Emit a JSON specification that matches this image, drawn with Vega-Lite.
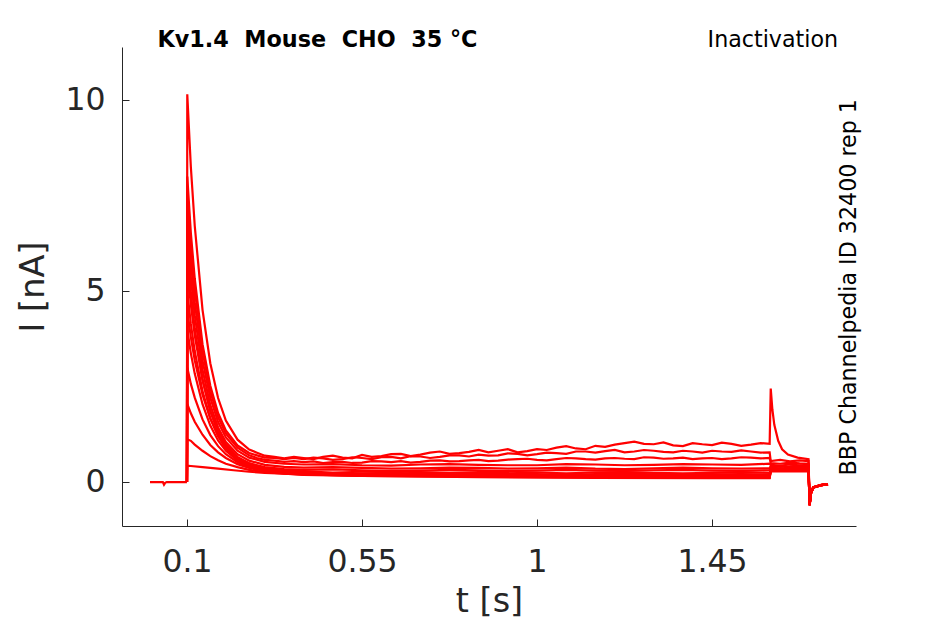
{
  "$schema": "https://vega.github.io/schema/vega-lite/v6.json",
  "width": 734,
  "height": 479,
  "autosize": "none",
  "padding": {"left": 122, "top": 47, "right": 89, "bottom": 98},
  "background": "white",
  "config": {
    "view": {"stroke": null},
    "font": "DejaVu Sans",
    "axis": {
      "grid": false,
      "domainColor": "#262626",
      "domainWidth": 1,
      "tickColor": "#262626",
      "tickSize": -7,
      "labelColor": "#262626",
      "titleColor": "#262626",
      "labelFont": "DejaVu Sans",
      "titleFont": "DejaVu Sans",
      "labelFontSize": 31.5,
      "titleFontSize": 33.5,
      "titleFontWeight": "normal"
    }
  },
  "data": {
    "values": [
      {"s": 0, "t": 0.005, "i": 0}, {"s": 0, "t": 0.038, "i": 0}, {"s": 0, "t": 0.041, "i": -0.07}, {"s": 0, "t": 0.044, "i": -0.02}, {"s": 0, "t": 0.048, "i": 0}, {"s": 0, "t": 0.1, "i": 0},

      {"s": 1, "t": 0.1, "i": 0}, {"s": 1, "t": 0.1008, "i": 10.15}, {"s": 1, "t": 0.11, "i": 8.25}, {"s": 1, "t": 0.12, "i": 6.71}, {"s": 1, "t": 0.14, "i": 4.51}, {"s": 1, "t": 0.16, "i": 3.11}, {"s": 1, "t": 0.18, "i": 2.2}, {"s": 1, "t": 0.2, "i": 1.61}, {"s": 1, "t": 0.23, "i": 1.11}, {"s": 1, "t": 0.26, "i": 0.85}, {"s": 1, "t": 0.28, "i": 0.77}, {"s": 1, "t": 0.3, "i": 0.69}, {"s": 1, "t": 0.325, "i": 0.66}, {"s": 1, "t": 0.35, "i": 0.62}, {"s": 1, "t": 0.375, "i": 0.66}, {"s": 1, "t": 0.4, "i": 0.63},
      {"s": 1, "t": 0.425, "i": 0.6}, {"s": 1, "t": 0.45, "i": 0.66}, {"s": 1, "t": 0.475, "i": 0.69}, {"s": 1, "t": 0.5, "i": 0.64}, {"s": 1, "t": 0.525, "i": 0.62}, {"s": 1, "t": 0.55, "i": 0.71}, {"s": 1, "t": 0.575, "i": 0.66}, {"s": 1, "t": 0.6, "i": 0.68}, {"s": 1, "t": 0.625, "i": 0.73}, {"s": 1, "t": 0.65, "i": 0.74}, {"s": 1, "t": 0.675, "i": 0.68}, {"s": 1, "t": 0.7, "i": 0.72}, {"s": 1, "t": 0.725, "i": 0.77}, {"s": 1, "t": 0.75, "i": 0.8}, {"s": 1, "t": 0.775, "i": 0.74}, {"s": 1, "t": 0.8, "i": 0.76}, {"s": 1, "t": 0.825, "i": 0.79}, {"s": 1, "t": 0.85, "i": 0.84}, {"s": 1, "t": 0.875, "i": 0.78}, {"s": 1, "t": 0.9, "i": 0.82}, {"s": 1, "t": 0.925, "i": 0.86}, {"s": 1, "t": 0.95, "i": 0.78}, {"s": 1, "t": 0.975, "i": 0.81}, {"s": 1, "t": 1, "i": 0.86}, {"s": 1, "t": 1.025, "i": 0.84}, {"s": 1, "t": 1.05, "i": 0.9}, {"s": 1, "t": 1.075, "i": 0.94}, {"s": 1, "t": 1.1, "i": 0.88}, {"s": 1, "t": 1.125, "i": 0.86}, {"s": 1, "t": 1.15, "i": 0.95}, {"s": 1, "t": 1.175, "i": 0.92}, {"s": 1, "t": 1.2, "i": 0.98}, {"s": 1, "t": 1.225, "i": 1.02}, {"s": 1, "t": 1.25, "i": 1.06}, {"s": 1, "t": 1.275, "i": 1.0}, {"s": 1, "t": 1.3, "i": 0.99}, {"s": 1, "t": 1.325, "i": 1.04}, {"s": 1, "t": 1.35, "i": 0.96}, {"s": 1, "t": 1.375, "i": 0.94}, {"s": 1, "t": 1.4, "i": 1.02}, {"s": 1, "t": 1.425, "i": 0.99}, {"s": 1, "t": 1.45, "i": 0.97}, {"s": 1, "t": 1.475, "i": 1.03}, {"s": 1, "t": 1.5, "i": 1.0}, {"s": 1, "t": 1.525, "i": 0.95}, {"s": 1, "t": 1.55, "i": 0.98}, {"s": 1, "t": 1.575, "i": 1.02}, {"s": 1, "t": 1.598, "i": 1.0},
      {"s": 1, "t": 1.6008, "i": 2.45}, {"s": 1, "t": 1.605, "i": 1.9}, {"s": 1, "t": 1.61, "i": 1.5}, {"s": 1, "t": 1.62, "i": 1.08}, {"s": 1, "t": 1.63, "i": 0.86}, {"s": 1, "t": 1.645, "i": 0.72}, {"s": 1, "t": 1.67, "i": 0.64}, {"s": 1, "t": 1.698, "i": 0.6}, {"s": 1, "t": 1.7008, "i": -0.62}, {"s": 1, "t": 1.704, "i": -0.3}, {"s": 1, "t": 1.71, "i": -0.15}, {"s": 1, "t": 1.73, "i": -0.08}, {"s": 1, "t": 1.748, "i": -0.06},

      {"s": 2, "t": 0.1, "i": 0}, {"s": 2, "t": 0.1008, "i": 8.0}, {"s": 2, "t": 0.11, "i": 6.52}, {"s": 2, "t": 0.12, "i": 5.33}, {"s": 2, "t": 0.14, "i": 3.61}, {"s": 2, "t": 0.16, "i": 2.52}, {"s": 2, "t": 0.18, "i": 1.81}, {"s": 2, "t": 0.2, "i": 1.35}, {"s": 2, "t": 0.23, "i": 0.96}, {"s": 2, "t": 0.26, "i": 0.76}, {"s": 2, "t": 0.28, "i": 0.7}, {"s": 2, "t": 0.3, "i": 0.64}, {"s": 2, "t": 0.325, "i": 0.63}, {"s": 2, "t": 0.35, "i": 0.6}, {"s": 2, "t": 0.375, "i": 0.63}, {"s": 2, "t": 0.4, "i": 0.6},
      {"s": 2, "t": 0.425, "i": 0.64}, {"s": 2, "t": 0.45, "i": 0.62}, {"s": 2, "t": 0.475, "i": 0.58}, {"s": 2, "t": 0.5, "i": 0.6}, {"s": 2, "t": 0.525, "i": 0.65}, {"s": 2, "t": 0.55, "i": 0.63}, {"s": 2, "t": 0.575, "i": 0.6}, {"s": 2, "t": 0.6, "i": 0.65}, {"s": 2, "t": 0.625, "i": 0.66}, {"s": 2, "t": 0.65, "i": 0.62}, {"s": 2, "t": 0.675, "i": 0.68}, {"s": 2, "t": 0.7, "i": 0.67}, {"s": 2, "t": 0.725, "i": 0.63}, {"s": 2, "t": 0.75, "i": 0.66}, {"s": 2, "t": 0.775, "i": 0.7}, {"s": 2, "t": 0.8, "i": 0.7}, {"s": 2, "t": 0.825, "i": 0.67}, {"s": 2, "t": 0.85, "i": 0.72}, {"s": 2, "t": 0.875, "i": 0.69}, {"s": 2, "t": 0.9, "i": 0.7}, {"s": 2, "t": 0.925, "i": 0.75}, {"s": 2, "t": 0.95, "i": 0.74}, {"s": 2, "t": 0.975, "i": 0.7}, {"s": 2, "t": 1, "i": 0.73}, {"s": 2, "t": 1.025, "i": 0.77}, {"s": 2, "t": 1.05, "i": 0.76}, {"s": 2, "t": 1.075, "i": 0.74}, {"s": 2, "t": 1.1, "i": 0.8}, {"s": 2, "t": 1.125, "i": 0.8}, {"s": 2, "t": 1.15, "i": 0.77}, {"s": 2, "t": 1.175, "i": 0.81}, {"s": 2, "t": 1.2, "i": 0.84}, {"s": 2, "t": 1.225, "i": 0.78}, {"s": 2, "t": 1.25, "i": 0.8}, {"s": 2, "t": 1.275, "i": 0.84}, {"s": 2, "t": 1.3, "i": 0.82}, {"s": 2, "t": 1.325, "i": 0.79}, {"s": 2, "t": 1.35, "i": 0.78}, {"s": 2, "t": 1.375, "i": 0.82}, {"s": 2, "t": 1.4, "i": 0.8}, {"s": 2, "t": 1.425, "i": 0.77}, {"s": 2, "t": 1.45, "i": 0.82}, {"s": 2, "t": 1.475, "i": 0.8}, {"s": 2, "t": 1.5, "i": 0.79}, {"s": 2, "t": 1.525, "i": 0.83}, {"s": 2, "t": 1.55, "i": 0.8}, {"s": 2, "t": 1.575, "i": 0.77}, {"s": 2, "t": 1.598, "i": 0.78},
      {"s": 2, "t": 1.6008, "i": 0.55}, {"s": 2, "t": 1.625, "i": 0.58}, {"s": 2, "t": 1.65, "i": 0.54}, {"s": 2, "t": 1.675, "i": 0.57}, {"s": 2, "t": 1.698, "i": 0.55}, {"s": 2, "t": 1.7008, "i": -0.6}, {"s": 2, "t": 1.704, "i": -0.3}, {"s": 2, "t": 1.71, "i": -0.14}, {"s": 2, "t": 1.73, "i": -0.08}, {"s": 2, "t": 1.748, "i": -0.07},

      {"s": 3, "t": 0.1, "i": 0}, {"s": 3, "t": 0.1008, "i": 7.6}, {"s": 3, "t": 0.11, "i": 6.19}, {"s": 3, "t": 0.12, "i": 5.05}, {"s": 3, "t": 0.14, "i": 3.42}, {"s": 3, "t": 0.16, "i": 2.37}, {"s": 3, "t": 0.18, "i": 1.7}, {"s": 3, "t": 0.2, "i": 1.27}, {"s": 3, "t": 0.23, "i": 0.9}, {"s": 3, "t": 0.26, "i": 0.7}, {"s": 3, "t": 0.28, "i": 0.63}, {"s": 3, "t": 0.3, "i": 0.58}, {"s": 3, "t": 0.325, "i": 0.56}, {"s": 3, "t": 0.35, "i": 0.53}, {"s": 3, "t": 0.375, "i": 0.55}, {"s": 3, "t": 0.4, "i": 0.52},
      {"s": 3, "t": 0.425, "i": 0.54}, {"s": 3, "t": 0.45, "i": 0.5}, {"s": 3, "t": 0.475, "i": 0.52}, {"s": 3, "t": 0.5, "i": 0.53}, {"s": 3, "t": 0.525, "i": 0.5}, {"s": 3, "t": 0.55, "i": 0.51}, {"s": 3, "t": 0.575, "i": 0.55}, {"s": 3, "t": 0.6, "i": 0.54}, {"s": 3, "t": 0.625, "i": 0.52}, {"s": 3, "t": 0.65, "i": 0.55}, {"s": 3, "t": 0.675, "i": 0.51}, {"s": 3, "t": 0.7, "i": 0.53}, {"s": 3, "t": 0.725, "i": 0.56}, {"s": 3, "t": 0.75, "i": 0.57}, {"s": 3, "t": 0.775, "i": 0.54}, {"s": 3, "t": 0.8, "i": 0.55}, {"s": 3, "t": 0.825, "i": 0.57}, {"s": 3, "t": 0.85, "i": 0.58}, {"s": 3, "t": 0.875, "i": 0.55}, {"s": 3, "t": 0.9, "i": 0.56}, {"s": 3, "t": 0.925, "i": 0.59}, {"s": 3, "t": 0.95, "i": 0.6}, {"s": 3, "t": 0.975, "i": 0.61}, {"s": 3, "t": 1, "i": 0.58}, {"s": 3, "t": 1.025, "i": 0.57}, {"s": 3, "t": 1.05, "i": 0.6}, {"s": 3, "t": 1.075, "i": 0.63}, {"s": 3, "t": 1.1, "i": 0.62}, {"s": 3, "t": 1.125, "i": 0.6}, {"s": 3, "t": 1.15, "i": 0.59}, {"s": 3, "t": 1.175, "i": 0.62}, {"s": 3, "t": 1.2, "i": 0.63}, {"s": 3, "t": 1.225, "i": 0.61}, {"s": 3, "t": 1.25, "i": 0.6}, {"s": 3, "t": 1.275, "i": 0.65}, {"s": 3, "t": 1.3, "i": 0.64}, {"s": 3, "t": 1.325, "i": 0.61}, {"s": 3, "t": 1.35, "i": 0.62}, {"s": 3, "t": 1.375, "i": 0.64}, {"s": 3, "t": 1.4, "i": 0.6}, {"s": 3, "t": 1.425, "i": 0.62}, {"s": 3, "t": 1.45, "i": 0.63}, {"s": 3, "t": 1.475, "i": 0.6}, {"s": 3, "t": 1.5, "i": 0.62}, {"s": 3, "t": 1.525, "i": 0.65}, {"s": 3, "t": 1.55, "i": 0.64}, {"s": 3, "t": 1.575, "i": 0.62}, {"s": 3, "t": 1.598, "i": 0.63},
      {"s": 3, "t": 1.6008, "i": 0.5}, {"s": 3, "t": 1.625, "i": 0.48}, {"s": 3, "t": 1.65, "i": 0.51}, {"s": 3, "t": 1.675, "i": 0.49}, {"s": 3, "t": 1.698, "i": 0.48}, {"s": 3, "t": 1.7008, "i": -0.6}, {"s": 3, "t": 1.704, "i": -0.3}, {"s": 3, "t": 1.71, "i": -0.14}, {"s": 3, "t": 1.73, "i": -0.08}, {"s": 3, "t": 1.748, "i": -0.06},

      {"s": 4, "t": 0.1, "i": 0}, {"s": 4, "t": 0.1008, "i": 7.1}, {"s": 4, "t": 0.11, "i": 5.78}, {"s": 4, "t": 0.12, "i": 4.71}, {"s": 4, "t": 0.14, "i": 3.18}, {"s": 4, "t": 0.16, "i": 2.21}, {"s": 4, "t": 0.18, "i": 1.57}, {"s": 4, "t": 0.2, "i": 1.17}, {"s": 4, "t": 0.23, "i": 0.82}, {"s": 4, "t": 0.26, "i": 0.64}, {"s": 4, "t": 0.3, "i": 0.53}, {"s": 4, "t": 0.35, "i": 0.48}, {"s": 4, "t": 0.4, "i": 0.46}, {"s": 4, "t": 0.475, "i": 0.47}, {"s": 4, "t": 0.55, "i": 0.44}, {"s": 4, "t": 0.625, "i": 0.43}, {"s": 4, "t": 0.7, "i": 0.46}, {"s": 4, "t": 0.775, "i": 0.47}, {"s": 4, "t": 0.85, "i": 0.45}, {"s": 4, "t": 0.925, "i": 0.44}, {"s": 4, "t": 1, "i": 0.44}, {"s": 4, "t": 1.075, "i": 0.47}, {"s": 4, "t": 1.15, "i": 0.46}, {"s": 4, "t": 1.225, "i": 0.44}, {"s": 4, "t": 1.3, "i": 0.45}, {"s": 4, "t": 1.375, "i": 0.47}, {"s": 4, "t": 1.45, "i": 0.46}, {"s": 4, "t": 1.525, "i": 0.45}, {"s": 4, "t": 1.598, "i": 0.48},
      {"s": 4, "t": 1.6008, "i": 0.45}, {"s": 4, "t": 1.625, "i": 0.43}, {"s": 4, "t": 1.65, "i": 0.46}, {"s": 4, "t": 1.675, "i": 0.44}, {"s": 4, "t": 1.698, "i": 0.45}, {"s": 4, "t": 1.7008, "i": -0.58}, {"s": 4, "t": 1.704, "i": -0.28}, {"s": 4, "t": 1.71, "i": -0.14}, {"s": 4, "t": 1.73, "i": -0.08}, {"s": 4, "t": 1.748, "i": -0.05},

      {"s": 5, "t": 0.1, "i": 0}, {"s": 5, "t": 0.1008, "i": 6.6}, {"s": 5, "t": 0.11, "i": 5.36}, {"s": 5, "t": 0.12, "i": 4.37}, {"s": 5, "t": 0.14, "i": 2.94}, {"s": 5, "t": 0.16, "i": 2.02}, {"s": 5, "t": 0.18, "i": 1.43}, {"s": 5, "t": 0.2, "i": 1.05}, {"s": 5, "t": 0.23, "i": 0.73}, {"s": 5, "t": 0.26, "i": 0.56}, {"s": 5, "t": 0.3, "i": 0.45}, {"s": 5, "t": 0.35, "i": 0.4}, {"s": 5, "t": 0.4, "i": 0.38}, {"s": 5, "t": 0.475, "i": 0.39}, {"s": 5, "t": 0.55, "i": 0.37}, {"s": 5, "t": 0.625, "i": 0.35}, {"s": 5, "t": 0.7, "i": 0.36}, {"s": 5, "t": 0.775, "i": 0.38}, {"s": 5, "t": 0.85, "i": 0.37}, {"s": 5, "t": 0.925, "i": 0.35}, {"s": 5, "t": 1, "i": 0.36}, {"s": 5, "t": 1.075, "i": 0.38}, {"s": 5, "t": 1.15, "i": 0.35}, {"s": 5, "t": 1.225, "i": 0.34}, {"s": 5, "t": 1.3, "i": 0.36}, {"s": 5, "t": 1.375, "i": 0.38}, {"s": 5, "t": 1.45, "i": 0.36}, {"s": 5, "t": 1.525, "i": 0.35}, {"s": 5, "t": 1.598, "i": 0.36},
      {"s": 5, "t": 1.6008, "i": 0.42}, {"s": 5, "t": 1.625, "i": 0.4}, {"s": 5, "t": 1.65, "i": 0.41}, {"s": 5, "t": 1.675, "i": 0.43}, {"s": 5, "t": 1.698, "i": 0.42}, {"s": 5, "t": 1.7008, "i": -0.6}, {"s": 5, "t": 1.704, "i": -0.29}, {"s": 5, "t": 1.71, "i": -0.13}, {"s": 5, "t": 1.73, "i": -0.07}, {"s": 5, "t": 1.748, "i": -0.05},

      {"s": 6, "t": 0.1, "i": 0}, {"s": 6, "t": 0.1008, "i": 6.1}, {"s": 6, "t": 0.11, "i": 4.95}, {"s": 6, "t": 0.12, "i": 4.02}, {"s": 6, "t": 0.14, "i": 2.7}, {"s": 6, "t": 0.16, "i": 1.85}, {"s": 6, "t": 0.18, "i": 1.3}, {"s": 6, "t": 0.2, "i": 0.94}, {"s": 6, "t": 0.23, "i": 0.64}, {"s": 6, "t": 0.26, "i": 0.49}, {"s": 6, "t": 0.3, "i": 0.39}, {"s": 6, "t": 0.35, "i": 0.34}, {"s": 6, "t": 0.4, "i": 0.32}, {"s": 6, "t": 0.475, "i": 0.33}, {"s": 6, "t": 0.55, "i": 0.31}, {"s": 6, "t": 0.625, "i": 0.29}, {"s": 6, "t": 0.7, "i": 0.3}, {"s": 6, "t": 0.775, "i": 0.32}, {"s": 6, "t": 0.85, "i": 0.31}, {"s": 6, "t": 0.925, "i": 0.29}, {"s": 6, "t": 1, "i": 0.3}, {"s": 6, "t": 1.075, "i": 0.32}, {"s": 6, "t": 1.15, "i": 0.3}, {"s": 6, "t": 1.225, "i": 0.29}, {"s": 6, "t": 1.3, "i": 0.31}, {"s": 6, "t": 1.375, "i": 0.32}, {"s": 6, "t": 1.45, "i": 0.3}, {"s": 6, "t": 1.525, "i": 0.29}, {"s": 6, "t": 1.598, "i": 0.31},
      {"s": 6, "t": 1.6008, "i": 0.38}, {"s": 6, "t": 1.625, "i": 0.36}, {"s": 6, "t": 1.65, "i": 0.37}, {"s": 6, "t": 1.675, "i": 0.39}, {"s": 6, "t": 1.698, "i": 0.38}, {"s": 6, "t": 1.7008, "i": -0.62}, {"s": 6, "t": 1.704, "i": -0.3}, {"s": 6, "t": 1.71, "i": -0.14}, {"s": 6, "t": 1.73, "i": -0.08}, {"s": 6, "t": 1.748, "i": -0.06},

      {"s": 7, "t": 0.1, "i": 0}, {"s": 7, "t": 0.1008, "i": 5.6}, {"s": 7, "t": 0.11, "i": 4.64}, {"s": 7, "t": 0.12, "i": 3.84}, {"s": 7, "t": 0.14, "i": 2.66}, {"s": 7, "t": 0.16, "i": 1.87}, {"s": 7, "t": 0.18, "i": 1.35}, {"s": 7, "t": 0.2, "i": 0.99}, {"s": 7, "t": 0.23, "i": 0.66}, {"s": 7, "t": 0.26, "i": 0.49}, {"s": 7, "t": 0.3, "i": 0.37}, {"s": 7, "t": 0.35, "i": 0.31}, {"s": 7, "t": 0.4, "i": 0.28}, {"s": 7, "t": 0.475, "i": 0.25}, {"s": 7, "t": 0.55, "i": 0.27}, {"s": 7, "t": 0.625, "i": 0.28}, {"s": 7, "t": 0.7, "i": 0.26}, {"s": 7, "t": 0.775, "i": 0.24}, {"s": 7, "t": 0.85, "i": 0.26}, {"s": 7, "t": 0.925, "i": 0.27}, {"s": 7, "t": 1, "i": 0.25}, {"s": 7, "t": 1.075, "i": 0.23}, {"s": 7, "t": 1.15, "i": 0.25}, {"s": 7, "t": 1.225, "i": 0.26}, {"s": 7, "t": 1.3, "i": 0.24}, {"s": 7, "t": 1.375, "i": 0.23}, {"s": 7, "t": 1.45, "i": 0.24}, {"s": 7, "t": 1.525, "i": 0.26}, {"s": 7, "t": 1.598, "i": 0.24},
      {"s": 7, "t": 1.6008, "i": 0.35}, {"s": 7, "t": 1.625, "i": 0.33}, {"s": 7, "t": 1.65, "i": 0.34}, {"s": 7, "t": 1.675, "i": 0.36}, {"s": 7, "t": 1.698, "i": 0.35}, {"s": 7, "t": 1.7008, "i": -0.6}, {"s": 7, "t": 1.704, "i": -0.3}, {"s": 7, "t": 1.71, "i": -0.14}, {"s": 7, "t": 1.73, "i": -0.08}, {"s": 7, "t": 1.748, "i": -0.06},

      {"s": 8, "t": 0.1, "i": 0}, {"s": 8, "t": 0.1008, "i": 5.0}, {"s": 8, "t": 0.11, "i": 4.14}, {"s": 8, "t": 0.12, "i": 3.43}, {"s": 8, "t": 0.14, "i": 2.38}, {"s": 8, "t": 0.16, "i": 1.67}, {"s": 8, "t": 0.18, "i": 1.2}, {"s": 8, "t": 0.2, "i": 0.88}, {"s": 8, "t": 0.23, "i": 0.59}, {"s": 8, "t": 0.26, "i": 0.44}, {"s": 8, "t": 0.3, "i": 0.33}, {"s": 8, "t": 0.35, "i": 0.27}, {"s": 8, "t": 0.4, "i": 0.25}, {"s": 8, "t": 0.475, "i": 0.22}, {"s": 8, "t": 0.55, "i": 0.23}, {"s": 8, "t": 0.625, "i": 0.24}, {"s": 8, "t": 0.7, "i": 0.22}, {"s": 8, "t": 0.775, "i": 0.2}, {"s": 8, "t": 0.85, "i": 0.22}, {"s": 8, "t": 0.925, "i": 0.23}, {"s": 8, "t": 1, "i": 0.21}, {"s": 8, "t": 1.075, "i": 0.19}, {"s": 8, "t": 1.15, "i": 0.21}, {"s": 8, "t": 1.225, "i": 0.22}, {"s": 8, "t": 1.3, "i": 0.2}, {"s": 8, "t": 1.375, "i": 0.19}, {"s": 8, "t": 1.45, "i": 0.2}, {"s": 8, "t": 1.525, "i": 0.21}, {"s": 8, "t": 1.598, "i": 0.2},
      {"s": 8, "t": 1.6008, "i": 0.33}, {"s": 8, "t": 1.625, "i": 0.31}, {"s": 8, "t": 1.65, "i": 0.32}, {"s": 8, "t": 1.675, "i": 0.34}, {"s": 8, "t": 1.698, "i": 0.33}, {"s": 8, "t": 1.7008, "i": -0.61}, {"s": 8, "t": 1.704, "i": -0.3}, {"s": 8, "t": 1.71, "i": -0.15}, {"s": 8, "t": 1.73, "i": -0.08}, {"s": 8, "t": 1.748, "i": -0.06},

      {"s": 9, "t": 0.1, "i": 0}, {"s": 9, "t": 0.1008, "i": 4.5}, {"s": 9, "t": 0.11, "i": 3.79}, {"s": 9, "t": 0.12, "i": 3.19}, {"s": 9, "t": 0.14, "i": 2.29}, {"s": 9, "t": 0.16, "i": 1.66}, {"s": 9, "t": 0.18, "i": 1.22}, {"s": 9, "t": 0.2, "i": 0.91}, {"s": 9, "t": 0.23, "i": 0.62}, {"s": 9, "t": 0.26, "i": 0.46}, {"s": 9, "t": 0.3, "i": 0.33}, {"s": 9, "t": 0.35, "i": 0.27}, {"s": 9, "t": 0.4, "i": 0.23}, {"s": 9, "t": 0.55, "i": 0.2}, {"s": 9, "t": 0.7, "i": 0.19}, {"s": 9, "t": 0.85, "i": 0.19}, {"s": 9, "t": 1, "i": 0.18}, {"s": 9, "t": 1.15, "i": 0.18}, {"s": 9, "t": 1.3, "i": 0.17}, {"s": 9, "t": 1.45, "i": 0.17}, {"s": 9, "t": 1.598, "i": 0.17},
      {"s": 9, "t": 1.6008, "i": 0.31}, {"s": 9, "t": 1.65, "i": 0.3}, {"s": 9, "t": 1.698, "i": 0.31}, {"s": 9, "t": 1.7008, "i": -0.6}, {"s": 9, "t": 1.704, "i": -0.3}, {"s": 9, "t": 1.71, "i": -0.14}, {"s": 9, "t": 1.73, "i": -0.08}, {"s": 9, "t": 1.748, "i": -0.06},

      {"s": 10, "t": 0.1, "i": 0}, {"s": 10, "t": 0.1008, "i": 4.0}, {"s": 10, "t": 0.11, "i": 3.37}, {"s": 10, "t": 0.12, "i": 2.84}, {"s": 10, "t": 0.14, "i": 2.04}, {"s": 10, "t": 0.16, "i": 1.48}, {"s": 10, "t": 0.18, "i": 1.09}, {"s": 10, "t": 0.2, "i": 0.82}, {"s": 10, "t": 0.23, "i": 0.56}, {"s": 10, "t": 0.26, "i": 0.41}, {"s": 10, "t": 0.3, "i": 0.3}, {"s": 10, "t": 0.35, "i": 0.24}, {"s": 10, "t": 0.4, "i": 0.21}, {"s": 10, "t": 0.55, "i": 0.19}, {"s": 10, "t": 0.7, "i": 0.18}, {"s": 10, "t": 0.85, "i": 0.17}, {"s": 10, "t": 1, "i": 0.17}, {"s": 10, "t": 1.15, "i": 0.16}, {"s": 10, "t": 1.3, "i": 0.16}, {"s": 10, "t": 1.45, "i": 0.15}, {"s": 10, "t": 1.598, "i": 0.15},
      {"s": 10, "t": 1.6008, "i": 0.3}, {"s": 10, "t": 1.65, "i": 0.29}, {"s": 10, "t": 1.698, "i": 0.3}, {"s": 10, "t": 1.7008, "i": -0.59}, {"s": 10, "t": 1.704, "i": -0.29}, {"s": 10, "t": 1.71, "i": -0.14}, {"s": 10, "t": 1.73, "i": -0.08}, {"s": 10, "t": 1.748, "i": -0.06},

      {"s": 11, "t": 0.1, "i": 0}, {"s": 11, "t": 0.1008, "i": 3.0}, {"s": 11, "t": 0.11, "i": 2.57}, {"s": 11, "t": 0.12, "i": 2.21}, {"s": 11, "t": 0.14, "i": 1.64}, {"s": 11, "t": 0.16, "i": 1.23}, {"s": 11, "t": 0.18, "i": 0.94}, {"s": 11, "t": 0.2, "i": 0.73}, {"s": 11, "t": 0.23, "i": 0.52}, {"s": 11, "t": 0.26, "i": 0.39}, {"s": 11, "t": 0.3, "i": 0.3}, {"s": 11, "t": 0.35, "i": 0.24}, {"s": 11, "t": 0.4, "i": 0.21}, {"s": 11, "t": 0.55, "i": 0.18}, {"s": 11, "t": 0.85, "i": 0.16}, {"s": 11, "t": 1.15, "i": 0.15}, {"s": 11, "t": 1.45, "i": 0.14}, {"s": 11, "t": 1.598, "i": 0.14},
      {"s": 11, "t": 1.6008, "i": 0.3}, {"s": 11, "t": 1.65, "i": 0.3}, {"s": 11, "t": 1.698, "i": 0.29}, {"s": 11, "t": 1.7008, "i": -0.6}, {"s": 11, "t": 1.704, "i": -0.3}, {"s": 11, "t": 1.71, "i": -0.14}, {"s": 11, "t": 1.73, "i": -0.08}, {"s": 11, "t": 1.748, "i": -0.06},

      {"s": 12, "t": 0.1, "i": 0}, {"s": 12, "t": 0.1008, "i": 2.05}, {"s": 12, "t": 0.11, "i": 1.8}, {"s": 12, "t": 0.12, "i": 1.58}, {"s": 12, "t": 0.14, "i": 1.24}, {"s": 12, "t": 0.16, "i": 0.97}, {"s": 12, "t": 0.18, "i": 0.78}, {"s": 12, "t": 0.2, "i": 0.63}, {"s": 12, "t": 0.23, "i": 0.47}, {"s": 12, "t": 0.26, "i": 0.37}, {"s": 12, "t": 0.3, "i": 0.29}, {"s": 12, "t": 0.35, "i": 0.23}, {"s": 12, "t": 0.4, "i": 0.2}, {"s": 12, "t": 0.55, "i": 0.17}, {"s": 12, "t": 0.85, "i": 0.15}, {"s": 12, "t": 1.15, "i": 0.14}, {"s": 12, "t": 1.45, "i": 0.13}, {"s": 12, "t": 1.598, "i": 0.13},
      {"s": 12, "t": 1.6008, "i": 0.32}, {"s": 12, "t": 1.65, "i": 0.31}, {"s": 12, "t": 1.698, "i": 0.32}, {"s": 12, "t": 1.7008, "i": -0.6}, {"s": 12, "t": 1.704, "i": -0.3}, {"s": 12, "t": 1.71, "i": -0.14}, {"s": 12, "t": 1.73, "i": -0.08}, {"s": 12, "t": 1.748, "i": -0.06},

      {"s": 13, "t": 0.1, "i": 0}, {"s": 13, "t": 0.1008, "i": 1.12}, {"s": 13, "t": 0.11, "i": 1.08}, {"s": 13, "t": 0.12, "i": 0.98}, {"s": 13, "t": 0.14, "i": 0.82}, {"s": 13, "t": 0.16, "i": 0.68}, {"s": 13, "t": 0.18, "i": 0.57}, {"s": 13, "t": 0.2, "i": 0.48}, {"s": 13, "t": 0.23, "i": 0.39}, {"s": 13, "t": 0.26, "i": 0.32}, {"s": 13, "t": 0.3, "i": 0.26}, {"s": 13, "t": 0.35, "i": 0.22}, {"s": 13, "t": 0.4, "i": 0.19}, {"s": 13, "t": 0.55, "i": 0.16}, {"s": 13, "t": 0.85, "i": 0.14}, {"s": 13, "t": 1.15, "i": 0.12}, {"s": 13, "t": 1.45, "i": 0.11}, {"s": 13, "t": 1.598, "i": 0.11},
      {"s": 13, "t": 1.6008, "i": 0.3}, {"s": 13, "t": 1.65, "i": 0.3}, {"s": 13, "t": 1.698, "i": 0.3}, {"s": 13, "t": 1.7008, "i": -0.6}, {"s": 13, "t": 1.704, "i": -0.3}, {"s": 13, "t": 1.71, "i": -0.14}, {"s": 13, "t": 1.73, "i": -0.08}, {"s": 13, "t": 1.748, "i": -0.06},

      {"s": 14, "t": 0.1, "i": 0}, {"s": 14, "t": 0.1008, "i": 0.43}, {"s": 14, "t": 0.11, "i": 0.42}, {"s": 14, "t": 0.14, "i": 0.39}, {"s": 14, "t": 0.18, "i": 0.35}, {"s": 14, "t": 0.22, "i": 0.31}, {"s": 14, "t": 0.26, "i": 0.27}, {"s": 14, "t": 0.3, "i": 0.24}, {"s": 14, "t": 0.4, "i": 0.2}, {"s": 14, "t": 0.55, "i": 0.16}, {"s": 14, "t": 0.85, "i": 0.13}, {"s": 14, "t": 1.15, "i": 0.11}, {"s": 14, "t": 1.45, "i": 0.1}, {"s": 14, "t": 1.598, "i": 0.1},
      {"s": 14, "t": 1.6008, "i": 0.28}, {"s": 14, "t": 1.65, "i": 0.28}, {"s": 14, "t": 1.698, "i": 0.28}, {"s": 14, "t": 1.7008, "i": -0.6}, {"s": 14, "t": 1.704, "i": -0.3}, {"s": 14, "t": 1.71, "i": -0.14}, {"s": 14, "t": 1.73, "i": -0.08}, {"s": 14, "t": 1.748, "i": -0.06}
    ]
  },
  "layer": [
    {
      "mark": {"type": "line", "color": "#ff0000", "strokeWidth": 2.2, "clip": true},
      "encoding": {
        "x": {
          "field": "t",
          "type": "quantitative",
          "scale": {"domain": [-0.067, 1.82], "nice": false, "zero": false},
          "axis": {"values": [0.1, 0.55, 1, 1.45], "format": ".3~g", "title": "t [s]", "labelPadding": 27, "titlePadding": 8}
        },
        "y": {
          "field": "i",
          "type": "quantitative",
          "scale": {"domain": [-1.15, 11.39], "nice": false, "zero": false},
          "axis": {"values": [0, 5, 10], "format": "d", "title": "I [nA]", "labelPadding": 24, "titlePadding": 14}
        },
        "detail": {"field": "s"},
        "order": {"field": "t"}
      }
    },
    {
      "data": {"values": [{"label": "Kv1.4\u00a0 Mouse\u00a0 CHO\u00a0 35 °C"}]},
      "mark": {"type": "text", "font": "DejaVu Sans", "fontSize": 22.3, "fontWeight": "bold", "color": "#000000", "align": "center", "baseline": "alphabetic"},
      "encoding": {"x": {"datum": 0.4356}, "y": {"datum": 11.39}, "text": {"field": "label"}}
    },
    {
      "data": {"values": [{"label": "Inactivation"}]},
      "mark": {"type": "text", "font": "DejaVu Sans", "fontSize": 22.2, "color": "#000000", "align": "right", "baseline": "alphabetic"},
      "encoding": {"x": {"datum": 1.774}, "y": {"datum": 11.39}, "text": {"field": "label"}}
    },
    {
      "data": {"values": [{"label": "BBP Channelpedia ID 32400 rep 1"}]},
      "mark": {"type": "text", "font": "DejaVu Sans", "fontSize": 22.2, "color": "#000000", "align": "center", "baseline": "middle", "angle": 270},
      "encoding": {"x": {"datum": 1.802}, "y": {"datum": 5.1}, "text": {"field": "label"}}
    }
  ]
}
